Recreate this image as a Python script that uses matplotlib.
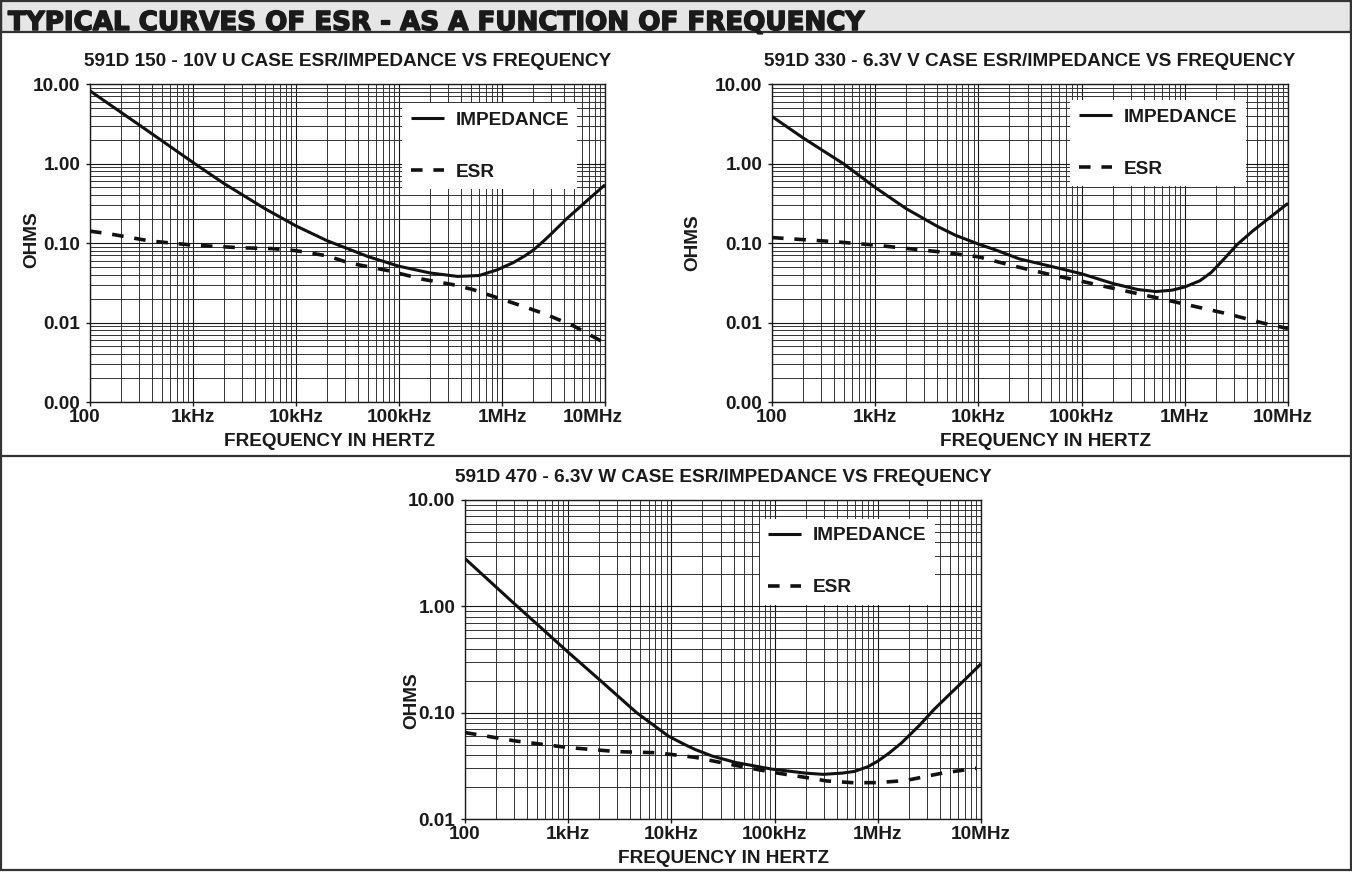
import matplotlib
matplotlib.use('Agg')
import matplotlib.pyplot as plt
from matplotlib.ticker import FixedLocator, LogLocator, NullFormatter
from matplotlib.patches import Rectangle
from matplotlib.lines import Line2D
import matplotlib.transforms as mtransforms
import matplotlib.patheffects as pe

# ---------------- data ----------------
header_text = "TYPICAL CURVES OF ESR - AS A FUNCTION OF FREQUENCY"
titles = ["591D 150 - 10V U CASE ESR/IMPEDANCE VS FREQUENCY",
          "591D 330 - 6.3V V CASE ESR/IMPEDANCE VS FREQUENCY",
          "591D 470 - 6.3V W CASE ESR/IMPEDANCE VS FREQUENCY"]
x_label = "FREQUENCY IN HERTZ"
y_label = "OHMS"
legend_labels = ["IMPEDANCE", "ESR"]

x_ticks = [1e2, 1e3, 1e4, 1e5, 1e6, 1e7]
x_tick_labels = ["100", "1kHz", "10kHz", "100kHz", "1MHz", "10MHz"]
y_ticks_4dec = [1e-3, 1e-2, 1e-1, 1, 10]
y_tick_labels_4dec = ["0.00", "0.01", "0.10", "1.00", "10.00"]
y_ticks_3dec = [1e-2, 1e-1, 1, 10]
y_tick_labels_3dec = ["0.01", "0.10", "1.00", "10.00"]

# chart 1 : 591D 150 - 10V U case
imp1_f = [100, 200, 300, 500, 1e3, 2e3, 5e3, 1e4, 2e4, 5e4, 1e5, 2e5, 3.7e5, 6e5, 9e5,
          1.3e6, 1.7e6, 2e6, 2.5e6, 3e6, 4.3e6, 6.5e6, 1e7]
imp1_z = [8.2, 4.4, 3.06, 1.93, 1.03, 0.56, 0.27, 0.164, 0.107, 0.0675, 0.051, 0.042, 0.038, 0.039, 0.046,
          0.057, 0.070, 0.081, 0.104, 0.130, 0.205, 0.33, 0.54]
esr1_f = [100, 156, 383, 1e3, 3e3, 6e3, 1e4, 2e4, 3.3e4, 7.8e4, 1.7e5, 3.3e5, 5.2e5, 9.5e5, 1.6e6, 2.7e6, 5e6, 1e7]
esr1_r = [0.141, 0.13, 0.106, 0.094, 0.087, 0.085, 0.080, 0.069, 0.056, 0.045, 0.035, 0.030, 0.026, 0.020,
          0.016, 0.0126, 0.0090, 0.0055]

# chart 2 : 591D 330 - 6.3V V case
imp2_f = [100, 200, 500, 1e3, 2e3, 4e3, 6e3, 1e4, 1.5e4, 2.5e4, 5e4, 1e5, 2e5, 3.5e5, 5.25e5, 7.5e5, 1e6,
          1.4e6, 1.8e6, 2.4e6, 3.2e6, 4.5e6, 7e6, 1e7]
imp2_z = [3.9, 2.1, 0.98, 0.50, 0.27, 0.162, 0.125, 0.097, 0.081, 0.063, 0.051, 0.041, 0.031, 0.026, 0.0245,
          0.0255, 0.028, 0.0335, 0.0425, 0.063, 0.095, 0.14, 0.22, 0.316]
esr2_f = [100, 400, 1e3, 4e3, 1e4, 2.4e4, 5e4, 1e5, 2e5, 5.8e5, 1e6, 2.5e6, 5.8e6, 1e7]
esr2_r = [0.117, 0.104, 0.094, 0.078, 0.067, 0.050, 0.040, 0.033, 0.027, 0.020, 0.017, 0.013, 0.0098, 0.0084]

# chart 3 : 591D 470 - 6.3V W case
imp3_f = [100, 300, 1e3, 2e3, 4.6e3, 7e3, 9.4e3, 1.3e4, 1.7e4, 2.5e4, 4.2e4, 9.3e4, 2e5, 2.95e5, 4.5e5,
          5.9e5, 8e5, 1e6, 1.3e6, 1.7e6, 2.5e6, 3.5e6, 5e6, 7e6, 1e7]
imp3_z = [2.81, 1.06, 0.37, 0.205, 0.10, 0.074, 0.060, 0.051, 0.045, 0.039, 0.034, 0.0295, 0.027, 0.0263, 0.027,
          0.028, 0.031, 0.035, 0.042, 0.052, 0.075, 0.107, 0.15, 0.205, 0.288]
esr3_f = [100, 315, 1e3, 3e3, 7.2e3, 1.7e4, 3.5e4, 9.3e4, 2.05e5, 3.2e5, 5.9e5, 1e6, 1.86e6, 4.2e6, 9e6]
esr3_r = [0.065, 0.054, 0.047, 0.043, 0.042, 0.038, 0.033, 0.0276, 0.0245, 0.0228, 0.0219, 0.022, 0.023, 0.027, 0.030]

# ---------------- layout ----------------
W, H = 1352, 872
DPI = 100
plt.rcParams['font.family'] = ['Liberation Sans', 'DejaVu Sans']
plt.rcParams['font.weight'] = 'bold'
FS = 13.7
INK = '#1a1a1a'

fig = plt.figure(figsize=(W / DPI, H / DPI), dpi=DPI)
fig.patch.set_facecolor('white')


def ax_rect(x0, x1, y0, y1):
    return [x0 / W, 1 - y1 / H, (x1 - x0) / W, (y1 - y0) / H]


def fx(px):
    return px / W


def fy(py):
    return 1 - py / H


charts = [
    dict(rect=(90, 605, 84, 402), title=titles[0], imp=(imp1_f, imp1_z), esr=(esr1_f, esr1_r),
         yt=y_ticks_4dec, ytl=y_tick_labels_4dec, ylim=(1e-3, 10), leg=(0.606, 0.94),
         title_y=66, ylab=(32, 240), xlab=(329, 446), shift_last=-12, shift_first=-5),
    dict(rect=(772, 1288, 84, 402), title=titles[1], imp=(imp2_f, imp2_z), esr=(esr2_f, esr2_r),
         yt=y_ticks_4dec, ytl=y_tick_labels_4dec, ylim=(1e-3, 10), leg=(0.578, 0.95),
         title_y=66, ylab=(693, 243), xlab=(1045, 446), shift_last=-5, shift_first=0),
    dict(rect=(465, 981, 500, 819), title=titles[2], imp=(imp3_f, imp3_z), esr=(esr3_f, esr3_r),
         yt=y_ticks_3dec, ytl=y_tick_labels_3dec, ylim=(1e-2, 10), leg=(0.571, 0.942),
         title_y=482, ylab=(412, 701), xlab=(723, 863), shift_last=0, shift_first=0),
]

for c in charts:
    x0, x1, y0, y1 = c['rect']
    ax = fig.add_axes(ax_rect(x0, x1, y0, y1))
    ax.set_xscale('log')
    ax.set_yscale('log')
    ax.set_xlim(1e2, 1e7)
    ax.set_ylim(*c['ylim'])
    ax.xaxis.set_major_locator(FixedLocator(x_ticks))
    ax.xaxis.set_minor_locator(LogLocator(base=10, subs=[2, 3, 4, 5, 6, 7, 8, 9], numticks=20))
    ax.yaxis.set_major_locator(FixedLocator(c['yt']))
    ax.yaxis.set_minor_locator(LogLocator(base=10, subs=[2, 3, 4, 5, 6, 7, 8, 9], numticks=20))
    ax.xaxis.set_minor_formatter(NullFormatter())
    ax.yaxis.set_minor_formatter(NullFormatter())
    ax.set_xticklabels(x_tick_labels, fontsize=FS, fontweight='bold', color=INK)
    ax.set_yticklabels(c['ytl'], fontsize=FS, fontweight='bold', color=INK)
    ax.grid(which='major', color='#151515', linewidth=0.8)
    ax.grid(which='minor', color='#333333', linewidth=0.7)
    ax.set_axisbelow(True)
    ax.tick_params(which='major', length=3, width=1, pad=2, colors=INK)
    ax.tick_params(axis='y', which='major', pad=4)
    ax.tick_params(which='minor', length=0)
    for s in ax.spines.values():
        s.set_color(INK)
        s.set_linewidth(1.0)

    labs = ax.get_xticklabels()
    labs[-1].set_transform(labs[-1].get_transform() +
                           mtransforms.ScaledTranslation(c['shift_last'] / DPI, 0, fig.dpi_scale_trans))
    labs[0].set_transform(labs[0].get_transform() +
                          mtransforms.ScaledTranslation(c['shift_first'] / DPI, 0, fig.dpi_scale_trans))

    l_imp, = ax.plot(c['imp'][0], c['imp'][1], color='#111111', lw=2.2, solid_capstyle='butt',
                     solid_joinstyle='round', zorder=4)
    l_esr, = ax.plot(c['esr'][0], c['esr'][1], color='#111111', lw=2.6, dashes=(3.2, 3.0),
                     dash_capstyle='butt', zorder=4)

    leg = ax.legend([l_imp, l_esr], legend_labels, loc='upper left', bbox_to_anchor=c['leg'],
                    borderaxespad=0, frameon=True, fancybox=False, framealpha=1,
                    facecolor='white', edgecolor='white', borderpad=0.45, labelspacing=1.82,
                    handlelength=1.75, handletextpad=0.6,
                    prop={'family': 'Liberation Sans', 'weight': 'bold', 'size': FS})
    leg.get_frame().set_linewidth(0)
    for t in leg.get_texts():
        t.set_color(INK)
    leg.set_zorder(6)

    fig.text(fx((x0 + x1) / 2), fy(c['title_y']), c['title'], ha='center', va='baseline',
             fontsize=FS, fontweight='bold', color=INK)
    fig.text(fx(c['ylab'][0]), fy(c['ylab'][1]), y_label, ha='center', va='center', rotation=90,
             fontsize=FS, fontweight='bold', color=INK)
    fig.text(fx(c['xlab'][0]), fy(c['xlab'][1]), x_label, ha='center', va='baseline',
             fontsize=FS, fontweight='bold', color=INK)

# ---------------- frame / header ----------------
fig.add_artist(Rectangle((fx(1), fy(32)), fx(1350), 32 / H, transform=fig.transFigure,
                         facecolor='#e6e6e6', edgecolor='#333333', linewidth=1.6, zorder=0))
fig.add_artist(Rectangle((fx(1), fy(870)), fx(1350), 869 / H, transform=fig.transFigure,
                         facecolor='none', edgecolor='#333333', linewidth=1.6, zorder=10))
fig.add_artist(Line2D([fx(1), fx(1351)], [fy(456), fy(456)], transform=fig.transFigure,
                      color='#333333', linewidth=1.6, zorder=10))

ht = fig.text(fx(8), fy(30), header_text, ha='left', va='baseline',
              fontsize=18, fontweight='bold', family='DejaVu Sans', color=INK, zorder=11,
              path_effects=[pe.withStroke(linewidth=1.1, foreground=INK)])
fig.canvas.draw()
r = fig.canvas.get_renderer()
w = ht.get_window_extent(r).width
ht.set_fontsize(18 * 856 / w)

fig.savefig('out.png', dpi=DPI)
